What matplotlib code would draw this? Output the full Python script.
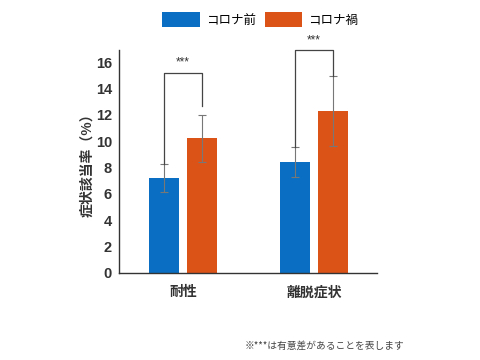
import matplotlib
matplotlib.use("Agg")
import matplotlib.pyplot as plt
import numpy as np

plt.rcParams['font.family'] = ['Noto Sans CJK JP', 'DejaVu Sans']

categories = ["耐性", "離脱症状"]
series_names = ["コロナ前", "コロナ禍"]
before = [7.2, 8.4]
before_err = [1.05, 1.12]
during = [10.2, 12.3]
during_err = [1.8, 2.65]
yticks = [0, 2, 4, 6, 8, 10, 12, 14, 16]
footnote = "※***は有意差があることを表します"

c_blue = '#0a6fc2'
c_orange = '#dc5318'

fig = plt.figure(figsize=(4.8, 3.6), dpi=100)
ax = fig.add_axes([0.248, 0.2417, 0.5375, 0.619])

x = np.arange(len(categories))
w = 0.229
off = 0.143
ax.bar(x - off, before, w, color=c_blue, label=series_names[0], zorder=2)
ax.bar(x + off, during, w, color=c_orange, label=series_names[1], zorder=2)
ax.errorbar(x - off, before, yerr=before_err, fmt='none', ecolor='#777777',
            elinewidth=0.8, capsize=3, capthick=0.8, zorder=3)
ax.errorbar(x + off, during, yerr=during_err, fmt='none', ecolor='#777777',
            elinewidth=0.8, capsize=3, capthick=0.8, zorder=3)

# significance brackets
brackets = [(0, 8.3, 15.2, 12.7), (1, 9.55, 16.9, 14.95)]
for i, lb, top, rb in brackets:
    ax.plot([i - off, i - off, i + off, i + off], [lb, top, top, rb],
            color='#444444', lw=0.9, clip_on=False, zorder=4)
    ax.text(i, top + 0.3, "***", ha='center', va='bottom', fontsize=8.5,
            color='#333333', clip_on=False, family=['Liberation Sans'])

ax.set_xlim(-0.489, 1.481)
ax.set_ylim(0, 16.9)
ax.set_yticks(yticks)
ax.set_xticks(x)
ax.set_xticklabels(categories)
for s in ['top', 'right']:
    ax.spines[s].set_visible(False)
for s in ['left', 'bottom']:
    ax.spines[s].set_color('#333333')
    ax.spines[s].set_linewidth(1.0)
ax.tick_params(axis='y', length=0, labelsize=10.5, colors='#333333', pad=5)
ax.tick_params(axis='x', length=0, labelsize=10, colors='#333333', pad=9)
for lab in ax.get_yticklabels():
    lab.set_fontweight('bold')
    lab.set_family(['Liberation Sans', 'Noto Sans CJK JP'])
for lab in ax.get_xticklabels():
    lab.set_fontweight('bold')
ax.set_ylabel("症状該当率（%）", fontsize=10, fontweight='bold', color='#333333', labelpad=1)

fig.legend(loc='center', bbox_to_anchor=(0.542, 0.945), ncol=2, frameon=False,
           fontsize=9, handlelength=3.0, handleheight=1.5, columnspacing=0.7,
           handletextpad=0.5)

fig.text(0.842, 0.04, footnote, ha='right', va='center', fontsize=7, color='#444444')

fig.savefig("out.png", dpi=100)
